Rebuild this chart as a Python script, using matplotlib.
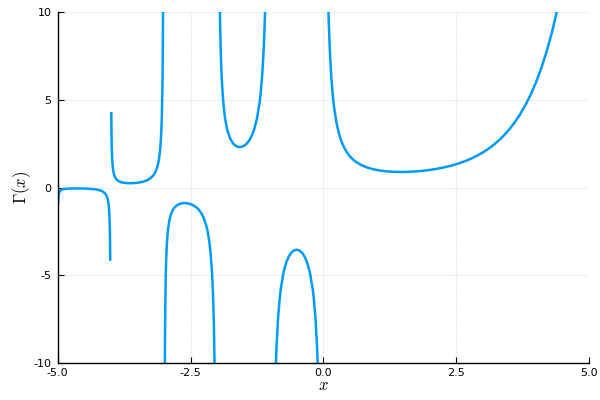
import numpy as np
import matplotlib
matplotlib.use("Agg")
import matplotlib.pyplot as plt

# Branch samples of Gamma(x), read/
x_b1 = [-4.99, -4.985, -4.98, -4.975, -4.965, -4.95, -4.94, -4.93, -4.92, -4.90, -4.85, -4.80, -4.75,
        -4.70, -4.65, -4.60, -4.55, -4.50, -4.45, -4.40, -4.35, -4.30, -4.25, -4.20, -4.15, -4.12,
        -4.10, -4.08, -4.07, -4.06, -4.05, -4.04, -4.03, -4.025, -4.02, -4.015, -4.01]
y_b1 = [-0.848, -0.570, -0.432, -0.348, -0.253, -0.183, -0.155, -0.135, -0.121, -0.100, -0.074, -0.062, -0.056,
        -0.054, -0.053, -0.054, -0.056, -0.060, -0.066, -0.074, -0.086, -0.102, -0.126, -0.164, -0.230, -0.296,
        -0.364, -0.466, -0.540, -0.638, -0.776, -0.983, -1.330, -1.605, -2.023, -2.720, -4.105]

x_b2 = [-3.99, -3.985, -3.98, -3.975, -3.965, -3.96, -3.95, -3.94, -3.93, -3.92, -3.90, -3.88, -3.85,
        -3.80, -3.75, -3.70, -3.65, -3.60, -3.55, -3.50, -3.45, -3.40, -3.35, -3.30, -3.25, -3.20,
        -3.18, -3.15, -3.12, -3.10, -3.08, -3.07, -3.06, -3.05, -3.04, -3.03, -3.025, -3.02, -3.015, -3.01]
y_b2 = [4.231, 2.842, 2.148, 1.732, 1.257, 1.109, 0.902, 0.764, 0.666, 0.593, 0.492, 0.425, 0.361,
        0.300, 0.268, 0.252, 0.246, 0.247, 0.255, 0.270, 0.293, 0.326, 0.372, 0.439, 0.536, 0.689,
        0.776, 0.952, 1.221, 1.492, 1.903, 2.197, 2.590, 3.142, 3.972, 5.359, 6.459, 8.132, 10.92, 16.46]

x_b3 = [-2.99, -2.985, -2.98, -2.975, -2.965, -2.96, -2.95, -2.94, -2.93, -2.92, -2.90, -2.88, -2.85,
        -2.82, -2.80, -2.75, -2.70, -2.65, -2.60, -2.55, -2.50, -2.45, -2.40, -2.35, -2.30, -2.25,
        -2.20, -2.18, -2.15, -2.12, -2.10, -2.09, -2.08, -2.07, -2.06, -2.05, -2.04, -2.03]
y_b3 = [-16.88, -11.33, -8.55, -6.886, -4.985, -4.392, -3.563, -3.011, -2.619, -2.326, -1.919, -1.650, -1.388,
        -1.220, -1.139, -1.005, -0.931, -0.896, -0.889, -0.905, -0.945, -1.011, -1.108, -1.247, -1.447, -1.743,
        -2.205, -2.467, -3.000, -3.809, -4.626, -5.173, -5.860, -6.744, -7.926, -9.584, -12.08, -16.24]

x_b4 = [-1.98, -1.965, -1.96, -1.95, -1.94, -1.93, -1.92, -1.91, -1.90, -1.88, -1.85, -1.82, -1.80,
        -1.75, -1.70, -1.65, -1.60, -1.55, -1.50, -1.45, -1.40, -1.35, -1.30, -1.25, -1.20, -1.18,
        -1.15, -1.12, -1.10, -1.09, -1.08, -1.07, -1.06]
y_b4 = [25.48, 14.78, 13.00, 10.51, 8.854, 7.674, 6.790, 6.108, 5.564, 4.752, 3.955, 3.439, 3.188,
        2.762, 2.514, 2.374, 2.311, 2.309, 2.363, 2.477, 2.659, 2.931, 3.328, 3.922, 4.851, 5.379,
        6.449, 8.075, 9.715, 10.81, 12.19, 13.96, 16.33]

x_b5 = [-0.94, -0.93, -0.92, -0.91, -0.90, -0.88, -0.85, -0.82, -0.80, -0.75, -0.70, -0.65, -0.60,
        -0.55, -0.50, -0.45, -0.40, -0.35, -0.30, -0.25, -0.20, -0.18, -0.15, -0.12, -0.10, -0.09,
        -0.08, -0.07, -0.06]
y_b5 = [-17.18, -14.81, -13.04, -11.67, -10.57, -8.934, -7.318, -6.259, -5.739, -4.834, -4.274, -3.917, -3.697,
        -3.579, -3.545, -3.592, -3.723, -3.957, -4.327, -4.902, -5.821, -6.347, -7.416, -9.044, -10.69, -11.79,
        -13.16, -14.94, -17.31]

x_b6 = [0.06, 0.07, 0.08, 0.09, 0.10, 0.12, 0.15, 0.18, 0.20, 0.25, 0.30, 0.35, 0.40, 0.45, 0.50,
        0.55, 0.60, 0.70, 0.80, 0.90, 1.00, 1.10, 1.20, 1.30, 1.40, 1.50, 1.60, 1.70, 1.80, 1.90,
        2.00, 2.10, 2.20, 2.30, 2.40, 2.50, 2.60, 2.70, 2.80, 2.90, 3.00, 3.10, 3.20, 3.30, 3.40,
        3.50, 3.60, 3.70, 3.80, 3.90, 4.00, 4.10, 4.20, 4.30, 4.40, 4.50, 4.60]
y_b6 = [16.15, 13.77, 12.00, 10.62, 9.514, 7.862, 6.220, 5.132, 4.591, 3.626, 2.992, 2.546, 2.218, 1.968, 1.772,
        1.616, 1.489, 1.298, 1.164, 1.069, 1.000, 0.951, 0.918, 0.898, 0.887, 0.886, 0.894, 0.909, 0.931, 0.962,
        1.000, 1.047, 1.102, 1.167, 1.242, 1.329, 1.430, 1.545, 1.677, 1.827, 2.000, 2.198, 2.424, 2.683, 2.981,
        3.323, 3.717, 4.171, 4.694, 5.300, 6.000, 6.813, 7.757, 8.855, 10.136, 11.632, 13.38]

branches = [(x_b1, y_b1), (x_b2, y_b2), (x_b3, y_b3), (x_b4, y_b4), (x_b5, y_b5), (x_b6, y_b6)]

xticks = [-5.0, -2.5, 0.0, 2.5, 5.0]
xticklabels = ["-5.0", "-2.5", "0.0", "2.5", "5.0"]
yticks = [-10, -5, 0, 5, 10]
yticklabels = ["-10", "-5", "0", "5", "10"]

plt.rcParams['mathtext.fontset'] = 'cm'
fig = plt.figure(figsize=(6, 4), dpi=100)
ax = fig.add_axes([0.096, 0.0925, 0.886, 0.8775])

color = "#009AFA"
for xs, ys in branches:
    ax.plot(xs, ys, color=color, lw=1.8, solid_joinstyle='round')

ax.set_xlim(-5, 5)
ax.set_ylim(-10, 10)
ax.set_xticks(xticks)
ax.set_xticklabels(xticklabels)
ax.set_yticks(yticks)
ax.set_yticklabels(yticklabels)
ax.tick_params(direction='in', length=4, width=0.8, labelsize=8, color='black')
ax.tick_params(axis='x', pad=3.5)
ax.tick_params(axis='y', pad=4.5)
ax.grid(True, color='#e6e6e6', lw=0.8, ls=(0, (1, 0.6)))
ax.set_axisbelow(True)
for s in ['top', 'right']:
    ax.spines[s].set_visible(False)
for s in ['left', 'bottom']:
    ax.spines[s].set_linewidth(1.0)

ax.set_xlabel(r'$x$', fontsize=12, labelpad=-1)
ax.set_ylabel(r'$\Gamma(x)$', fontsize=12, labelpad=0)

fig.savefig("out.png", dpi=100)
